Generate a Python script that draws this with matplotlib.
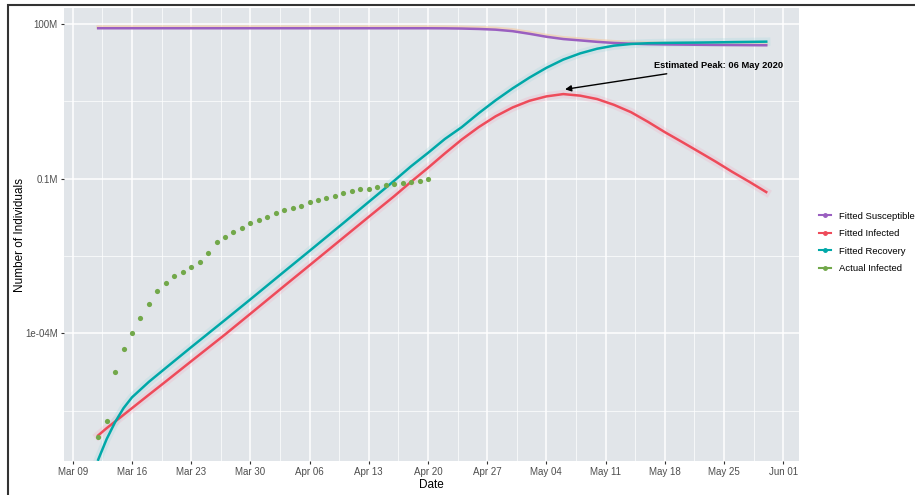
import numpy as np
import pandas as pd
import matplotlib
matplotlib.use('Agg')
import matplotlib.pyplot as plt
import matplotlib.dates as mdates
from matplotlib.lines import Line2D
from matplotlib.patches import Rectangle

plt.rcParams['font.family'] = ['Liberation Sans', 'DejaVu Sans']

# actual infected cases (persons), daily from Mar 12 to Apr 20
actual_dates = pd.date_range('2020-03-12', '2020-04-20')
actual_cases = [1, 2, 18, 49, 101, 195, 370, 678, 968, 1288,
                1563, 1954, 2443, 3700, 5880, 7550, 9440, 11000, 13740, 16100,
                18450, 21700, 24500, 27500, 30100, 35100, 38800, 43000, 47000, 53100,
                58100, 62600, 64300, 70300, 75900, 80400, 84000, 87900, 91900, 97700]

# fitted SIR curves (millions)
fit_dates = pd.to_datetime(['2020-03-12', '2020-03-13', '2020-03-14', '2020-03-15',
                            '2020-03-16', '2020-03-18', '2020-03-20', '2020-03-23',
                            '2020-03-27', '2020-03-30', '2020-04-03', '2020-04-06',
                            '2020-04-10', '2020-04-13',
                            '2020-04-16', '2020-04-18', '2020-04-20', '2020-04-22',
                            '2020-04-24', '2020-04-26', '2020-04-28', '2020-04-30',
                            '2020-05-02', '2020-05-04', '2020-05-06', '2020-05-08',
                            '2020-05-10', '2020-05-12', '2020-05-14', '2020-05-16',
                            '2020-05-18', '2020-05-20', '2020-05-22', '2020-05-24',
                            '2020-05-26', '2020-05-28', '2020-05-30'])
susceptible = [82.6, 82.6, 82.6, 82.6, 82.6, 82.6, 82.6, 82.6, 82.6, 82.6,
               82.6, 82.6, 82.6, 82.6,
               82.6, 82.6, 82.6, 82.3, 81.5, 80.0, 77.5, 72.5,
               64.5, 56.5, 51.0, 48.0, 45.0, 42.8, 41.5, 40.6,
               40.1, 39.8, 39.5, 39.2, 39.0, 38.8, 38.6]
infected = [1.05e-6, 1.45e-6, 1.95e-6, 2.63e-6, 3.55e-6, 6.46e-6, 1.17e-5, 2.88e-5,
            9.5e-5, 2.4e-4, 8.3e-4, 2.09e-3, 7.2e-3, 0.0182,
            0.0457, 0.087, 0.162, 0.309, 0.575, 1.0, 1.62, 2.40,
            3.24, 3.94, 4.37, 4.07, 3.5, 2.7, 1.95, 1.27,
            0.80, 0.52, 0.335, 0.215, 0.135, 0.087, 0.055]
recovered = [3.55e-7, 8.9e-7, 1.9e-6, 3.55e-6, 5.75e-6, 1.15e-5, 2.14e-5, 5.4e-5,
             1.82e-4, 4.57e-4, 1.58e-3, 3.98e-3, 0.0138, 0.0355,
             0.091, 0.174, 0.316, 0.589, 1.0, 1.86, 3.31, 5.62,
             9.12, 14.1, 20.4, 26.9, 33.1, 38.0, 40.9, 42.3,
             42.9, 43.3, 43.6, 44.0, 44.5, 44.9, 45.4]

peak_date = pd.Timestamp('2020-05-06')

c_sus = '#9A5FC0'
c_inf = '#EE4B5A'
c_rec = '#00A8A8'
c_act = '#72A84A'

fig = plt.figure(figsize=(9.15, 4.95), dpi=100)
ax = fig.add_axes([64/915, 1 - 461/495, (799-64)/915, (461-8)/495])
ax.set_facecolor('#E1E5E9')

# faint halo behind the fitted curves (raw simulation scatter)
ax.plot(fit_dates, np.array(susceptible) * 1.06, color='#F5C9A0', lw=2.5, alpha=0.6, zorder=2)
ax.plot(fit_dates, infected, color='#F4A9C0', lw=6, alpha=0.25, zorder=2)
ax.plot(fit_dates, recovered, color='#A9D9E0', lw=6, alpha=0.3, zorder=2)

ax.plot(fit_dates, susceptible, color=c_sus, lw=1.8, zorder=3)
ax.plot(fit_dates, infected, color=c_inf, lw=1.8, zorder=3)
ax.plot(fit_dates, recovered, color=c_rec, lw=1.8, zorder=3)
ax.scatter(actual_dates, np.array(actual_cases) / 1e6, s=14, color=c_act, zorder=4, lw=0)

ax.set_yscale('log')
ax.set_ylim(3.35e-7, 204)
ax.set_xlim(pd.Timestamp('2020-03-09') - pd.Timedelta(hours=25),
            pd.Timestamp('2020-06-01') + pd.Timedelta(hours=45))

ax.yaxis.set_major_locator(matplotlib.ticker.FixedLocator([1e-4, 0.1, 100]))
ax.yaxis.set_major_formatter(matplotlib.ticker.FixedFormatter(['1e-04M', '0.1M', '100M']))
ax.yaxis.set_minor_locator(matplotlib.ticker.FixedLocator([10**-5.5, 10**-2.5, 10**0.5]))
ax.yaxis.set_minor_formatter(matplotlib.ticker.NullFormatter())

ax.xaxis.set_major_locator(mdates.WeekdayLocator(byweekday=mdates.MO))
ax.xaxis.set_major_formatter(mdates.DateFormatter('%b %d'))
weeks = pd.date_range('2020-03-05 12:00', '2020-06-04', freq='7D')
ax.xaxis.set_minor_locator(matplotlib.ticker.FixedLocator(mdates.date2num(weeks)))

ax.grid(which='major', color='white', lw=1.1)
ax.grid(which='minor', color='white', lw=0.5)
ax.set_axisbelow(True)
for s in ax.spines.values():
    s.set_visible(False)
ax.tick_params(which='major', length=2.5, width=0.8, color='#333333',
               labelsize=7, labelcolor='#4D4D4D', pad=2)
ax.tick_params(which='minor', length=0)

ax.set_xlabel('Date', fontsize=8.5, labelpad=1)
ax.set_ylabel('Number of Individuals', fontsize=8.5)
ax.yaxis.set_label_coords((26 - 64) / 735, 0.5)

ax.annotate('Estimated Peak: 06 May 2020',
            xy=(peak_date + pd.Timedelta(hours=5), 5.4),
            xytext=(pd.Timestamp('2020-05-16 17:00'), 15.4),
            fontsize=6.7, fontweight='bold', ha='left', va='center',
            arrowprops=dict(arrowstyle='-|>', color='black', lw=1, shrinkA=3, shrinkB=0,
                            mutation_scale=9))

handles = [Line2D([0], [0], color=c_sus, lw=1.5, marker='o', markersize=2.5),
           Line2D([0], [0], color=c_inf, lw=1.5, marker='o', markersize=2.5),
           Line2D([0], [0], color=c_rec, lw=1.5, marker='o', markersize=2.5),
           Line2D([0], [0], color=c_act, lw=1.5, marker='o', markersize=2.5)]
labels = ['Fitted Susceptible', 'Fitted Infected', 'Fitted Recovery', 'Actual Infected']
fig.legend(handles, labels, loc='upper left', bbox_to_anchor=(815/915, 1 - 208/495),
           frameon=False, fontsize=6.8, handlelength=1.3, handletextpad=0.85,
           labelspacing=0.9, borderaxespad=0)

# frame of the original figure
fig.patches.append(Rectangle((8/915, -0.1), 1.2, 1 - 4.7/495 + 0.1, transform=fig.transFigure,
                             fill=False, edgecolor='#333333', lw=1.5))

fig.savefig('out.png', dpi=100)
